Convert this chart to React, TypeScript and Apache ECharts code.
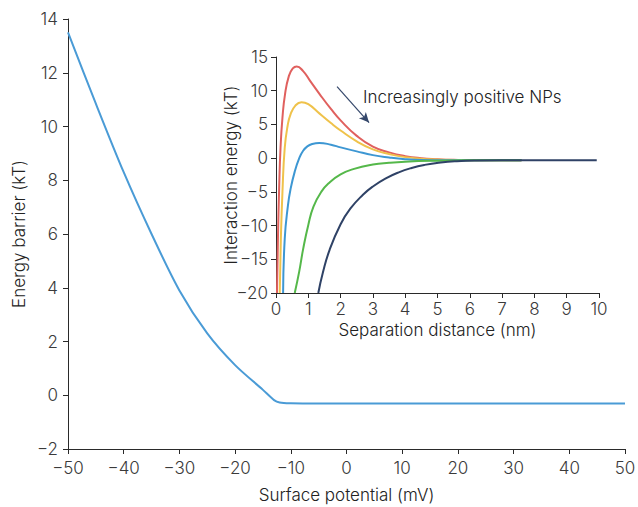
import React, { useEffect, useRef } from "react";
import * as echarts from "echarts";

// Main chart: energy barrier vs surface potential
const potentialMV = [-50, -45, -40, -35, -30, -25, -20, -15, -13, -12, -10, -5, 0, 10, 20, 30, 40, 50];
const barrierKT = [13.5, 10.85, 8.3, 6.0, 3.9, 2.3, 1.12, 0.2, -0.18, -0.27, -0.3, -0.31, -0.31, -0.31, -0.31, -0.31, -0.31, -0.31];

// Inset: interaction energy vs separation distance
const redCurve = [[0.03, -20], [0.06, -12], [0.1, -4], [0.14, 1.5], [0.2, 6], [0.28, 9.5], [0.4, 12.2], [0.52, 13.3], [0.64, 13.6], [0.84, 12.9], [1.05, 11.5], [1.35, 9.5], [1.7, 7.3], [2.0, 5.6], [2.5, 3.3], [3.0, 1.7], [3.5, 0.85], [4.0, 0.3], [4.5, 0.0], [5.0, -0.15], [5.5, -0.25], [6.0, -0.3], [7.6, -0.3]];
const yellowCurve = [[0.115, -20], [0.15, -12], [0.2, -5], [0.27, 1.5], [0.36, 4.8], [0.45, 6.5], [0.6, 7.8], [0.79, 8.3], [1.0, 8.0], [1.35, 6.6], [1.7, 5.2], [2.0, 4.1], [2.5, 2.5], [3.0, 1.3], [3.5, 0.6], [4.0, 0.15], [4.7, -0.15], [5.5, -0.28], [7.6, -0.3]];
const blueCurve = [[0.22, -20], [0.27, -12], [0.37, -7.0], [0.45, -4.6], [0.58, -2.0], [0.72, 0.0], [0.84, 1.1], [0.97, 1.75], [1.12, 2.1], [1.34, 2.25], [1.7, 2.0], [2.0, 1.6], [2.5, 1.0], [3.0, 0.45], [3.5, 0.1], [4.0, -0.15], [4.5, -0.27], [5.2, -0.3], [7.6, -0.3]];
const greenCurve = [[0.58, -20], [0.72, -16.8], [0.84, -13.5], [1.0, -9.9], [1.16, -7.2], [1.4, -5.0], [1.66, -3.6], [2.0, -2.4], [2.39, -1.63], [3.0, -0.95], [3.5, -0.68], [4.0, -0.52], [5.0, -0.38], [6.0, -0.32], [7.6, -0.3]];
const navyCurve = [[1.31, -20], [1.45, -17], [1.66, -13.6], [2.0, -9.8], [2.3, -7.5], [2.7, -5.4], [3.0, -4.2], [3.4, -3.0], [3.8, -2.1], [4.2, -1.45], [4.6, -1.0], [5.1, -0.65], [5.6, -0.45], [6.2, -0.34], [7.0, -0.3], [9.93, -0.3]];

const arrowFrom = [1.89, 10.6];
const arrowTo = [2.88, 5.28];

const FONT = "Inter";
const TXT = "#3a3a3a";
const AXIS = "#2a2a2a";
const FS = 17;
const minus = (v: number) => String(v).replace("-", "\u2212");

export default function App() {
  const ref = useRef<HTMLDivElement>(null);
  useEffect(() => {
    if (!ref.current) return;
    const chart = echarts.init(ref.current, undefined, { renderer: "svg" });
    const axisCommon = {
      axisLine: { show: true, onZero: false, lineStyle: { color: AXIS, width: 1 } },
      axisTick: { show: true, length: 5, lineStyle: { color: AXIS, width: 1 } },
      splitLine: { show: false },
      nameMoveOverlap: false,
      axisLabel: { color: TXT, fontFamily: FONT, fontSize: FS, fontWeight: 300, formatter: (v: number) => minus(v) },
      nameTextStyle: { color: "#222", fontFamily: FONT, fontSize: FS, fontWeight: 300 },
    };
    const line = (data: any, color: string, xi: number, extra: any = {}) => ({
      type: "line",
      xAxisIndex: xi,
      yAxisIndex: xi,
      data,
      smooth: 0.5,
      showSymbol: false,
      symbol: "none",
      clip: true,
      lineStyle: { color, width: 2 },
      ...extra,
    });
    chart.setOption({
      animation: false,
      backgroundColor: "#fff",
      grid: [
        { left: 68, right: 13, top: 19, bottom: 58, outerBoundsMode: "none", containLabel: false },
        { left: 276, top: 57, width: 323, height: 236, outerBoundsMode: "none", containLabel: false },
      ],
      xAxis: [
        {
          ...axisCommon,
          gridIndex: 0,
          type: "value",
          min: -50,
          max: 50,
          interval: 10,
          name: "Surface potential (mV)",
          nameLocation: "middle",
          nameGap: 37,
          axisLabel: { ...axisCommon.axisLabel, margin: 10 },
        },
        {
          ...axisCommon,
          gridIndex: 1,
          type: "value",
          min: 0,
          max: 10,
          interval: 1,
          name: "Separation distance (nm)",
          nameLocation: "middle",
          nameGap: 28,
          axisLabel: { ...axisCommon.axisLabel, margin: 7 },
        },
      ],
      yAxis: [
        {
          ...axisCommon,
          gridIndex: 0,
          type: "value",
          min: -2,
          max: 14,
          interval: 2,
          name: "Energy barrier (kT)",
          nameLocation: "middle",
          nameGap: 41,
          axisLabel: { ...axisCommon.axisLabel, margin: 10 },
        },
        {
          ...axisCommon,
          gridIndex: 1,
          type: "value",
          min: -20,
          max: 15,
          interval: 5,
          name: "Interaction energy (kT)",
          nameLocation: "middle",
          nameGap: 37,
          axisLabel: { ...axisCommon.axisLabel, margin: 8 },
        },
      ],
      series: [
        line(potentialMV.map((x, i) => [x, barrierKT[i]]), "#4a9bd6", 0, { smooth: 0.3 }),
        line(redCurve, "#e0605e", 1),
        line(yellowCurve, "#efc24b", 1),
        line(blueCurve, "#3d97d3", 1),
        line(greenCurve, "#55b84a", 1),
        line(navyCurve, "#2f4266", 1, {
          markLine: {
            silent: true,
            symbol: ["none", "arrow"],
            symbolSize: [7, 10],
            label: { show: false },
            lineStyle: { color: "#34476a", width: 1.2, type: "solid" },
            data: [[{ coord: arrowFrom }, { coord: arrowTo }]],
          },
        }),
      ],
      graphic: [
        {
          type: "text",
          left: 363,
          top: 88,
          style: { text: "Increasingly positive NPs", fill: "#222", font: `300 ${FS}px ${FONT}` },
        },
      ],
    });
    return () => chart.dispose();
  }, []);
  return <div ref={ref} style={{ position: "fixed", left: 0, top: 0, width: 638, height: 507 }} />;
}
